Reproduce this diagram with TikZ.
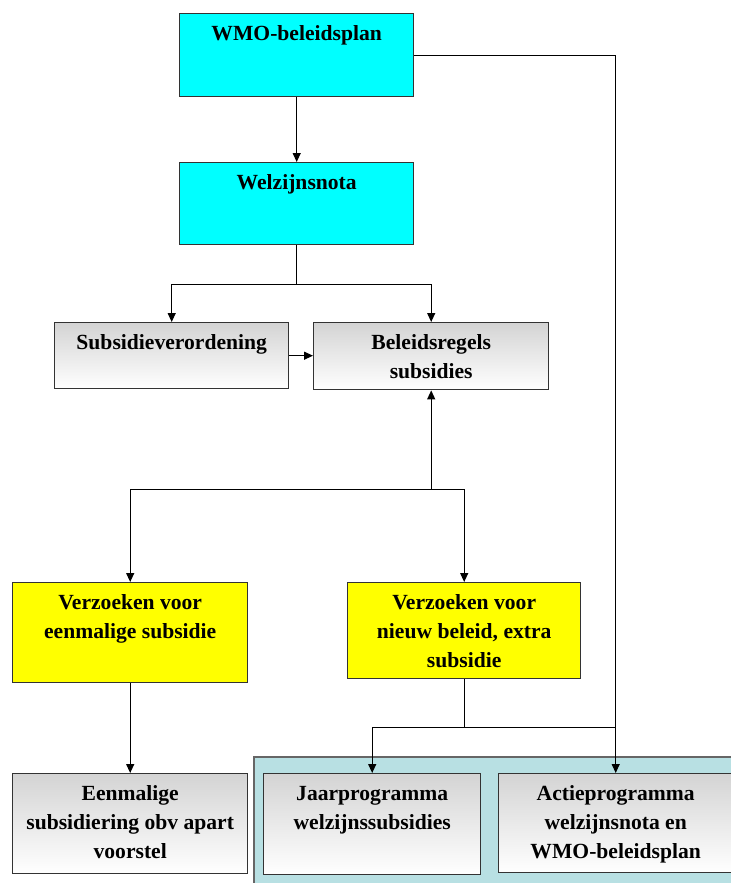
\documentclass[tikz,border=0pt]{standalone}
\usepackage{fontspec}
\setmainfont{Liberation Serif}
\usetikzlibrary{arrows.meta}
\definecolor{frame}{rgb}{0.72,0.88,0.89}
\definecolor{boxcyan}{rgb}{0,1,1}
\definecolor{boxyellow}{rgb}{1,1,0}

\begin{document}
\begin{tikzpicture}[x=0.5pt,y=-0.5pt,
    >={Triangle[length=4.5pt,width=4pt]},
    line width=0.6pt,
    box/.style={draw=black!80,line width=0.7pt,anchor=north west,align=center,
      inner ysep=0pt,text height=13.5pt,
      font=\bfseries\fontsize{10.8}{14.5}\selectfont},
    cyanbox/.style={box,fill=boxcyan},
    yellowbox/.style={box,fill=boxyellow},
    greybox/.style={box,top color=black!17,bottom color=white}]
  \useasboundingbox (0,0) rectangle (730,883);
  \filldraw[fill=frame,draw=black!60] (254,757) rectangle (745,900);

  \node[cyanbox,minimum width=117pt,text depth=28pt] (wmo) at (179,13) {WMO-beleidsplan};
  \node[cyanbox,minimum width=117pt,text depth=27.5pt] (welz) at (179,162) {Welzijnsnota};
  \node[greybox,minimum width=117pt,text depth=19.5pt] (sub) at (54,322) {Subsidieverordening};
  \node[greybox,minimum width=117.5pt,text height=28pt,text depth=5.5pt] (bel) at (313,322) {Beleidsregels\\subsidies};
  \node[yellowbox,minimum width=117.5pt,text height=28pt,text depth=22pt] (yel1) at (12,582) {Verzoeken voor\\eenmalige subsidie};
  \node[yellowbox,minimum width=116.5pt,text height=42.5pt,text depth=5.5pt] (yel2) at (347,582) {Verzoeken voor\\nieuw beleid, extra\\subsidie};
  \node[greybox,minimum width=117.5pt,text height=42.5pt,text depth=7.5pt] (een) at (12,773) {Eenmalige\\subsidiering obv apart\\voorstel};
  \node[greybox,minimum width=108.5pt,text height=28pt,text depth=22.5pt] (jaar) at (263,773) {Jaarprogramma\\welzijnssubsidies};
  \node[greybox,minimum width=117pt,text height=42.5pt,text depth=7pt] (actie) at (498,773) {Actieprogramma\\welzijnsnota en\\WMO-beleidsplan};

  \draw[->] (wmo.south) -- (welz.north);
  \draw[->] (welz.south) -- ++(0,39) coordinate (split1) -| (sub.north);
  \draw[->] (split1) -| (bel.north);
  \draw[->] (sub.east) -- (sub.east -| bel.west);
  \draw[<-] (bel.south) -- ++(0,99) coordinate (split2);
  \draw[->] (split2) -| (yel1.north);
  \draw[->] (split2) -| (yel2.north);
  \draw[->] (yel1.south) -- (een.north);
  \draw (yel2.south) -- ++(0,48) coordinate (split3);
  \draw[->] (split3) -| (jaar.north);
  \draw (split3) -- (split3 -| actie.north);
  \draw[->] (wmo.east) -| (actie.north);
\end{tikzpicture}
\end{document}
